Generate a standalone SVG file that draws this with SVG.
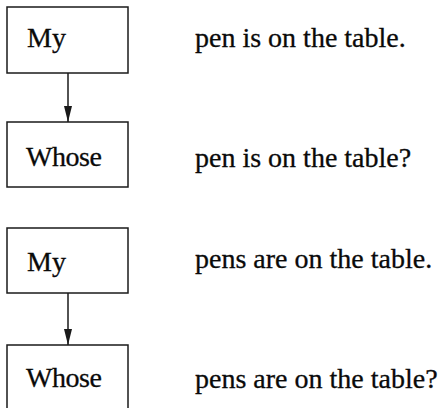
<svg xmlns="http://www.w3.org/2000/svg" width="439" height="408" viewBox="0 0 439 408">
<style>
.box{fill:#fff;stroke:#1a1a1a;stroke-width:1.5}
.t{font-family:"Liberation Serif","Times New Roman",serif;font-size:28px;fill:#0a0a0a;stroke:#0a0a0a;stroke-width:0.3}
.c{stroke:#1a1a1a;stroke-width:1.5;fill:none}
</style>
<defs>
<marker id="ah" markerWidth="16" markerHeight="9" refX="16" refY="4.5" orient="auto" markerUnits="userSpaceOnUse" viewBox="0 0 16 9">
<path d="M0,0.5 L16,4.5 L0,8.5 Z" fill="#1a1a1a"/>
</marker>
</defs>
<rect width="439" height="408" fill="#fff"/>
<g id="connectors">
<line class="c" x1="68" y1="73" x2="68" y2="122" marker-end="url(#ah)"/>
<line class="c" x1="68" y1="293" x2="68" y2="345" marker-end="url(#ah)"/>
</g>
<g id="n1"><rect class="box" x="7" y="7" width="121" height="66"/><text class="t" x="27" y="47">My</text></g>
<g id="n2"><rect class="box" x="7" y="122" width="121" height="65"/><text class="t" x="26" y="166" textLength="76">Whose</text></g>
<g id="n3"><rect class="box" x="7" y="228" width="121" height="65"/><text class="t" x="27" y="271">My</text></g>
<g id="n4"><rect class="box" x="7" y="345" width="121" height="70"/><text class="t" x="26" y="387" textLength="76">Whose</text></g>
<g id="labels">
<text class="t" x="195" y="47">pen is on the table.</text>
<text class="t" x="195" y="167">pen is on the table?</text>
<text class="t" x="195" y="268">pens are on the table.</text>
<text class="t" x="195" y="388">pens are on the table?</text>
</g>
</svg>
